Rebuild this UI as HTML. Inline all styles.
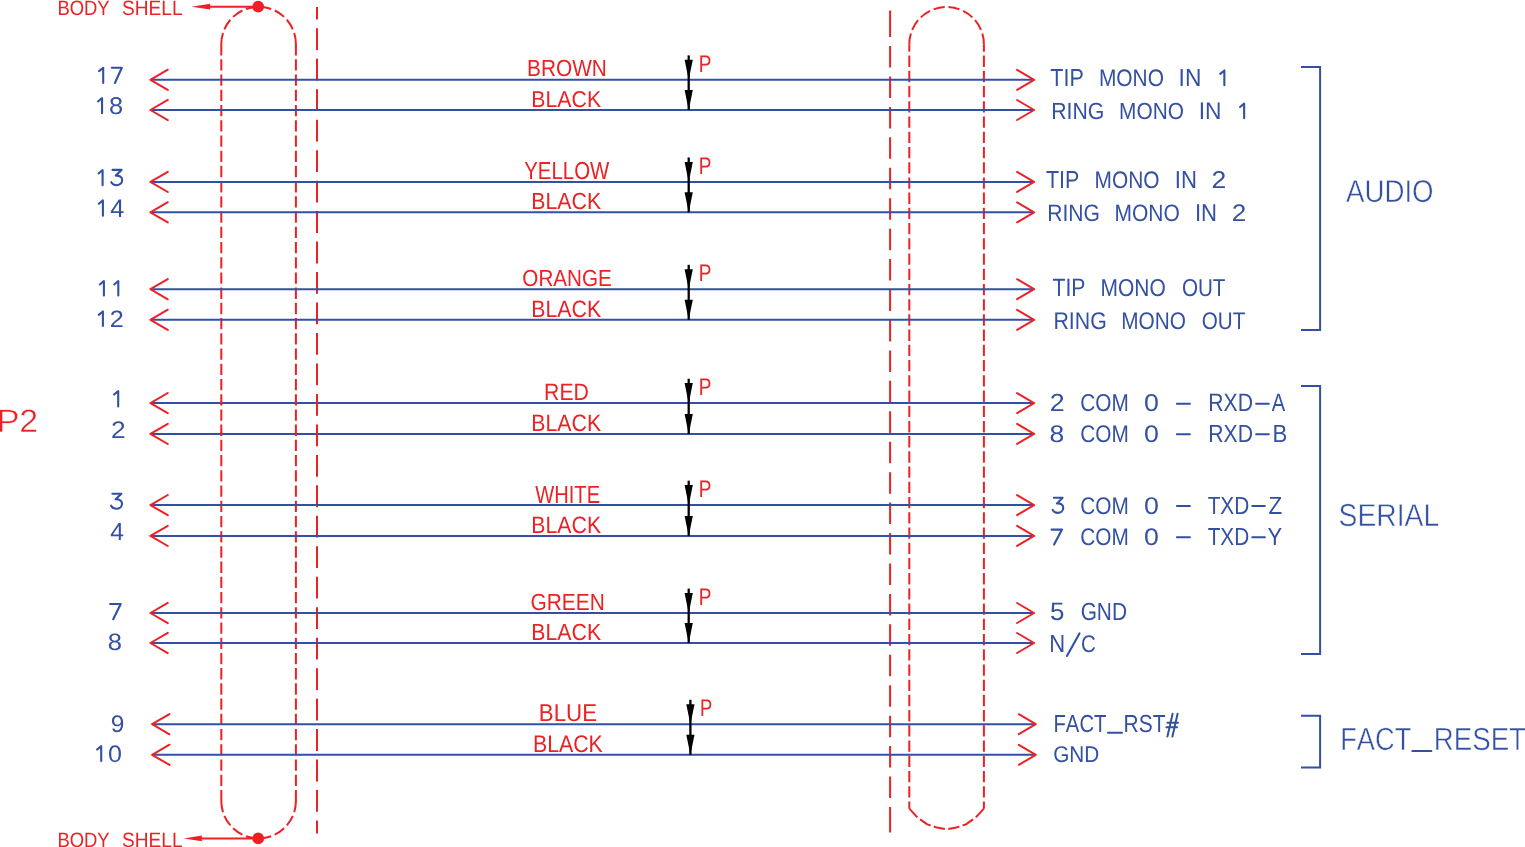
<!DOCTYPE html>
<html><head><meta charset="utf-8"><title>P2 cable wiring</title>
<style>
html,body{margin:0;padding:0;background:#fff;}
body{width:1525px;height:847px;overflow:hidden;}
svg{display:block;will-change:transform;}
text{font-family:"Liberation Sans",sans-serif;font-kerning:none;white-space:pre;}
</style></head>
<body>
<svg width="1525" height="847" viewBox="0 0 1525 847" text-rendering="geometricPrecision">
<rect width="1525" height="847" fill="#fff"/>
<g id="dash">
<path d="M317 7.10V19.40M317 28.30V50.10M317 58.77V80.57M317 89.24V111.04M317 119.71V141.51M317 150.18V171.98M317 180.65V202.45M317 211.12V232.92M317 241.59V263.39M317 272.06V293.86M317 302.53V324.33M317 333.00V354.80M317 363.47V385.27M317 393.94V415.74M317 424.41V446.21M317 454.88V476.68M317 485.35V507.15M317 515.82V537.62M317 546.29V568.09M317 576.76V598.56M317 607.23V629.03M317 637.70V659.50M317 668.17V689.97M317 698.64V720.44M317 729.11V750.91M317 759.58V781.38M317 790.05V811.85M317 820.60V833.50" fill="none" stroke="#ED2124" stroke-width="2" />
<path d="M890.1 10.60V37.00M890.1 46.00V67.50M890.1 76.44V97.94M890.1 106.88V128.38M890.1 137.32V158.82M890.1 167.76V189.26M890.1 198.20V219.70M890.1 228.64V250.14M890.1 259.08V280.58M890.1 289.52V311.02M890.1 319.96V341.46M890.1 350.40V371.90M890.1 380.84V402.34M890.1 411.28V432.78M890.1 441.72V463.22M890.1 472.16V493.66M890.1 502.60V524.10M890.1 533.04V554.54M890.1 563.48V584.98M890.1 593.92V615.42M890.1 624.36V645.86M890.1 654.80V676.30M890.1 685.24V706.74M890.1 715.68V737.18M890.1 746.12V767.62M890.1 776.56V798.06M890.1 807.10V832.40" fill="none" stroke="#ED2124" stroke-width="2" />
<path d="M221.3 44.1V801.1" fill="none" stroke="#ED2124" stroke-width="2" stroke-dasharray="11.3 3.92"/>
<path d="M295.9 44.1V801.1" fill="none" stroke="#ED2124" stroke-width="2" stroke-dasharray="11.3 3.92"/>
<path d="M221.3 44.1A37.3 37.3 0 0 1 258.60 6.80" fill="none" stroke="#ED2124" stroke-width="2" stroke-dasharray="11.3 3.92"/>
<path d="M295.9 44.1A37.3 37.3 0 0 0 258.60 6.80" fill="none" stroke="#ED2124" stroke-width="2" stroke-dasharray="11.3 3.92"/>
<path d="M221.3 801.1A37.3 37.3 0 0 0 258.60 838.40" fill="none" stroke="#ED2124" stroke-width="2" stroke-dasharray="11.3 3.92"/>
<path d="M295.9 801.1A37.3 37.3 0 0 1 258.60 838.40" fill="none" stroke="#ED2124" stroke-width="2" stroke-dasharray="11.3 3.92"/>
<path d="M909.3 44.3V808.4" fill="none" stroke="#ED2124" stroke-width="2" stroke-dasharray="11.3 3.92" stroke-dashoffset="3.9"/>
<path d="M983.9 44.3V808.4" fill="none" stroke="#ED2124" stroke-width="2" stroke-dasharray="11.3 3.92" stroke-dashoffset="3.9"/>
<path d="M946.60 7.00A37.3 37.3 0 0 0 909.3 44.3" fill="none" stroke="#ED2124" stroke-width="2" stroke-dasharray="11.3 3.92" stroke-dashoffset="13.3"/>
<path d="M946.60 7.00A37.3 37.3 0 0 1 983.9 44.3" fill="none" stroke="#ED2124" stroke-width="2" stroke-dasharray="11.3 3.92" stroke-dashoffset="13.3"/>
<path d="M909.10 808.40 L917.50 817.50 L927.30 824.40 L937.00 827.60 L944.90 829.00" fill="none" stroke="#ED2124" stroke-width="2" stroke-dasharray="12.2 3.4" stroke-linejoin="round"/>
<path d="M984.10 808.40 L975.70 817.50 L965.90 824.40 L956.20 827.60 L948.30 829.00" fill="none" stroke="#ED2124" stroke-width="2" stroke-dasharray="12.2 3.4" stroke-linejoin="round"/>
</g>
<line x1="209.10" y1="6.70" x2="258.20" y2="6.70" stroke="#ED2124" stroke-width="2" />
<path d="M191.5 6.7L210.1 3.80L210.1 9.60Z" fill="#ED2124"/>
<circle cx="258.2" cy="6.7" r="5.9" fill="#ED2124"/>
<line x1="200.80" y1="838.40" x2="258.20" y2="838.40" stroke="#ED2124" stroke-width="2" />
<path d="M183.8 838.4L201.8 835.50L201.8 841.30Z" fill="#ED2124"/>
<circle cx="258.2" cy="838.4" r="5.9" fill="#ED2124"/>
<text transform="translate(57.39 14.70) scale(0.8814 1)" font-size="20.90" fill="#ED2124">BODY</text>
<text transform="translate(122.03 14.70) scale(0.9150 1)" font-size="20.90" fill="#ED2124">SHELL</text>
<text transform="translate(57.39 846.50) scale(0.8814 1)" font-size="20.90" fill="#ED2124">BODY</text>
<text transform="translate(122.03 846.50) scale(0.9150 1)" font-size="20.90" fill="#ED2124">SHELL</text>
<line x1="150.40" y1="79.80" x2="1034.00" y2="79.80" stroke="#3350A2" stroke-width="2" />
<line x1="150.40" y1="110.00" x2="1034.00" y2="110.00" stroke="#3350A2" stroke-width="2" />
<line x1="150.40" y1="181.90" x2="1034.00" y2="181.90" stroke="#3350A2" stroke-width="2" />
<line x1="150.40" y1="212.30" x2="1034.00" y2="212.30" stroke="#3350A2" stroke-width="2" />
<line x1="150.40" y1="289.20" x2="1034.00" y2="289.20" stroke="#3350A2" stroke-width="2" />
<line x1="150.40" y1="319.80" x2="1034.00" y2="319.80" stroke="#3350A2" stroke-width="2" />
<line x1="150.40" y1="403.10" x2="1034.00" y2="403.10" stroke="#3350A2" stroke-width="2" />
<line x1="150.40" y1="433.90" x2="1034.00" y2="433.90" stroke="#3350A2" stroke-width="2" />
<line x1="150.40" y1="505.10" x2="1034.00" y2="505.10" stroke="#3350A2" stroke-width="2" />
<line x1="150.40" y1="535.90" x2="1034.00" y2="535.90" stroke="#3350A2" stroke-width="2" />
<line x1="150.40" y1="613.00" x2="1034.00" y2="613.00" stroke="#3350A2" stroke-width="2" />
<line x1="150.40" y1="643.00" x2="1034.00" y2="643.00" stroke="#3350A2" stroke-width="2" />
<line x1="152.10" y1="724.20" x2="1035.70" y2="724.20" stroke="#3350A2" stroke-width="2" />
<line x1="152.10" y1="754.80" x2="1035.70" y2="754.80" stroke="#3350A2" stroke-width="2" />
<clipPath id="c4"><rect x="0" y="401.4" width="1525" height="3.4"/><rect x="0" y="432.2" width="1525" height="3.4"/></clipPath>
<use href="#dash" clip-path="url(#c4)"/>
<path d="M167.80 69.70L150.40 79.80L167.80 89.90" fill="none" stroke="#ED2124" stroke-width="2" stroke-linecap="round" stroke-linejoin="round"/>
<path d="M1017.10 69.80L1034.10 79.80L1017.10 89.80" fill="none" stroke="#ED2124" stroke-width="2" stroke-linecap="round" stroke-linejoin="round"/>
<path d="M167.80 99.90L150.40 110.00L167.80 120.10" fill="none" stroke="#ED2124" stroke-width="2" stroke-linecap="round" stroke-linejoin="round"/>
<path d="M1017.10 100.00L1034.10 110.00L1017.10 120.00" fill="none" stroke="#ED2124" stroke-width="2" stroke-linecap="round" stroke-linejoin="round"/>
<line x1="688.70" y1="55.40" x2="688.70" y2="110.00" stroke="#000000" stroke-width="2.3" />
<path d="M684.60 59.80L692.80 59.80L688.70 80.10Z" fill="#000000"/>
<path d="M684.60 90.00L692.80 90.00L688.70 110.30Z" fill="#000000"/>
<text transform="translate(698.64 71.80) scale(0.7865 1)" font-size="24.13" fill="#ED2124">P</text>
<path d="M167.80 171.80L150.40 181.90L167.80 192.00" fill="none" stroke="#ED2124" stroke-width="2" stroke-linecap="round" stroke-linejoin="round"/>
<path d="M1017.10 171.90L1034.10 181.90L1017.10 191.90" fill="none" stroke="#ED2124" stroke-width="2" stroke-linecap="round" stroke-linejoin="round"/>
<path d="M167.80 202.20L150.40 212.30L167.80 222.40" fill="none" stroke="#ED2124" stroke-width="2" stroke-linecap="round" stroke-linejoin="round"/>
<path d="M1017.10 202.30L1034.10 212.30L1017.10 222.30" fill="none" stroke="#ED2124" stroke-width="2" stroke-linecap="round" stroke-linejoin="round"/>
<line x1="688.70" y1="157.50" x2="688.70" y2="212.30" stroke="#000000" stroke-width="2.3" />
<path d="M684.60 161.90L692.80 161.90L688.70 182.20Z" fill="#000000"/>
<path d="M684.60 192.30L692.80 192.30L688.70 212.60Z" fill="#000000"/>
<text transform="translate(698.64 173.90) scale(0.7865 1)" font-size="24.13" fill="#ED2124">P</text>
<path d="M167.80 279.10L150.40 289.20L167.80 299.30" fill="none" stroke="#ED2124" stroke-width="2" stroke-linecap="round" stroke-linejoin="round"/>
<path d="M1017.10 279.20L1034.10 289.20L1017.10 299.20" fill="none" stroke="#ED2124" stroke-width="2" stroke-linecap="round" stroke-linejoin="round"/>
<path d="M167.80 309.70L150.40 319.80L167.80 329.90" fill="none" stroke="#ED2124" stroke-width="2" stroke-linecap="round" stroke-linejoin="round"/>
<path d="M1017.10 309.80L1034.10 319.80L1017.10 329.80" fill="none" stroke="#ED2124" stroke-width="2" stroke-linecap="round" stroke-linejoin="round"/>
<line x1="688.70" y1="264.80" x2="688.70" y2="319.80" stroke="#000000" stroke-width="2.3" />
<path d="M684.60 269.20L692.80 269.20L688.70 289.50Z" fill="#000000"/>
<path d="M684.60 299.80L692.80 299.80L688.70 320.10Z" fill="#000000"/>
<text transform="translate(698.64 281.20) scale(0.7865 1)" font-size="24.13" fill="#ED2124">P</text>
<path d="M167.80 393.00L150.40 403.10L167.80 413.20" fill="none" stroke="#ED2124" stroke-width="2" stroke-linecap="round" stroke-linejoin="round"/>
<path d="M1017.10 393.10L1034.10 403.10L1017.10 413.10" fill="none" stroke="#ED2124" stroke-width="2" stroke-linecap="round" stroke-linejoin="round"/>
<path d="M167.80 423.80L150.40 433.90L167.80 444.00" fill="none" stroke="#ED2124" stroke-width="2" stroke-linecap="round" stroke-linejoin="round"/>
<path d="M1017.10 423.90L1034.10 433.90L1017.10 443.90" fill="none" stroke="#ED2124" stroke-width="2" stroke-linecap="round" stroke-linejoin="round"/>
<line x1="688.70" y1="378.70" x2="688.70" y2="433.90" stroke="#000000" stroke-width="2.3" />
<path d="M684.60 383.10L692.80 383.10L688.70 403.40Z" fill="#000000"/>
<path d="M684.60 413.90L692.80 413.90L688.70 434.20Z" fill="#000000"/>
<text transform="translate(698.64 395.10) scale(0.7865 1)" font-size="24.13" fill="#ED2124">P</text>
<path d="M167.80 495.00L150.40 505.10L167.80 515.20" fill="none" stroke="#ED2124" stroke-width="2" stroke-linecap="round" stroke-linejoin="round"/>
<path d="M1017.10 495.10L1034.10 505.10L1017.10 515.10" fill="none" stroke="#ED2124" stroke-width="2" stroke-linecap="round" stroke-linejoin="round"/>
<path d="M167.80 525.80L150.40 535.90L167.80 546.00" fill="none" stroke="#ED2124" stroke-width="2" stroke-linecap="round" stroke-linejoin="round"/>
<path d="M1017.10 525.90L1034.10 535.90L1017.10 545.90" fill="none" stroke="#ED2124" stroke-width="2" stroke-linecap="round" stroke-linejoin="round"/>
<line x1="688.70" y1="480.70" x2="688.70" y2="535.90" stroke="#000000" stroke-width="2.3" />
<path d="M684.60 485.10L692.80 485.10L688.70 505.40Z" fill="#000000"/>
<path d="M684.60 515.90L692.80 515.90L688.70 536.20Z" fill="#000000"/>
<text transform="translate(698.64 497.10) scale(0.7865 1)" font-size="24.13" fill="#ED2124">P</text>
<path d="M167.80 602.90L150.40 613.00L167.80 623.10" fill="none" stroke="#ED2124" stroke-width="2" stroke-linecap="round" stroke-linejoin="round"/>
<path d="M1017.10 603.00L1034.10 613.00L1017.10 623.00" fill="none" stroke="#ED2124" stroke-width="2" stroke-linecap="round" stroke-linejoin="round"/>
<path d="M167.80 632.90L150.40 643.00L167.80 653.10" fill="none" stroke="#ED2124" stroke-width="2" stroke-linecap="round" stroke-linejoin="round"/>
<path d="M1017.10 633.00L1034.10 643.00L1017.10 653.00" fill="none" stroke="#ED2124" stroke-width="2" stroke-linecap="round" stroke-linejoin="round"/>
<line x1="688.70" y1="588.60" x2="688.70" y2="643.00" stroke="#000000" stroke-width="2.3" />
<path d="M684.60 593.00L692.80 593.00L688.70 613.30Z" fill="#000000"/>
<path d="M684.60 623.00L692.80 623.00L688.70 643.30Z" fill="#000000"/>
<text transform="translate(698.64 605.00) scale(0.7865 1)" font-size="24.13" fill="#ED2124">P</text>
<path d="M169.50 714.10L152.10 724.20L169.50 734.30" fill="none" stroke="#ED2124" stroke-width="2" stroke-linecap="round" stroke-linejoin="round"/>
<path d="M1018.80 714.20L1035.80 724.20L1018.80 734.20" fill="none" stroke="#ED2124" stroke-width="2" stroke-linecap="round" stroke-linejoin="round"/>
<path d="M169.50 744.70L152.10 754.80L169.50 764.90" fill="none" stroke="#ED2124" stroke-width="2" stroke-linecap="round" stroke-linejoin="round"/>
<path d="M1018.80 744.80L1035.80 754.80L1018.80 764.80" fill="none" stroke="#ED2124" stroke-width="2" stroke-linecap="round" stroke-linejoin="round"/>
<line x1="690.40" y1="699.80" x2="690.40" y2="754.80" stroke="#000000" stroke-width="2.3" />
<path d="M686.30 704.20L694.50 704.20L690.40 724.50Z" fill="#000000"/>
<path d="M686.30 734.80L694.50 734.80L690.40 755.10Z" fill="#000000"/>
<text transform="translate(700.06 716.20) scale(0.7600 1)" font-size="24.13" fill="#ED2124">P</text>
<path d="M99.10 71.15L103.20 67.75V82.95" fill="none" stroke="#3350A2" stroke-width="2.1" stroke-linecap="round" stroke-linejoin="round"/>
<path d="M111.80 67.70H121.80L114.90 83.00" fill="none" stroke="#3350A2" stroke-width="2.1" stroke-linecap="round" stroke-linejoin="round"/>
<path d="M97.95 101.45L102.05 98.05V113.15" fill="none" stroke="#3350A2" stroke-width="2.1" stroke-linecap="round" stroke-linejoin="round"/>
<text transform="translate(108.90 113.96) scale(1.0439 1)" font-size="24.29" fill="#3350A2">8</text>
<path d="M98.50 173.45L102.60 170.05V185.15" fill="none" stroke="#3350A2" stroke-width="2.1" stroke-linecap="round" stroke-linejoin="round"/>
<path d="M112.52 169.92L121.59 169.92L115.74 175.62C119.67 175.41 122.19 177.24 122.19 180.09C122.19 183.25 119.67 185.18 116.45 185.18C113.93 185.18 112.11 183.96 111.21 182.13" fill="none" stroke="#3350A2" stroke-width="2.1" stroke-linecap="round" stroke-linejoin="round"/>
<path d="M98.80 203.75L102.90 200.35V215.65" fill="none" stroke="#3350A2" stroke-width="2.1" stroke-linecap="round" stroke-linejoin="round"/>
<text transform="translate(110.32 216.70) scale(0.9965 1)" font-size="25.29" fill="#3350A2">4</text>
<path d="M99.80 284.45L103.90 281.05V295.55" fill="none" stroke="#3350A2" stroke-width="2.1" stroke-linecap="round" stroke-linejoin="round"/>
<path d="M114.20 284.45L118.30 281.05V295.55" fill="none" stroke="#3350A2" stroke-width="2.1" stroke-linecap="round" stroke-linejoin="round"/>
<path d="M98.80 314.85L102.90 311.45V325.95" fill="none" stroke="#3350A2" stroke-width="2.1" stroke-linecap="round" stroke-linejoin="round"/>
<text transform="translate(109.83 327.00) scale(1.0618 1)" font-size="23.77" fill="#3350A2">2</text>
<path d="M114.10 394.55L118.20 391.15V406.45" fill="none" stroke="#3350A2" stroke-width="2.1" stroke-linecap="round" stroke-linejoin="round"/>
<text transform="translate(110.88 437.70) scale(1.1013 1)" font-size="23.92" fill="#3350A2">2</text>
<path d="M112.40 493.70L121.40 493.70L115.60 499.30C119.50 499.10 122.00 500.90 122.00 503.70C122.00 506.80 119.50 508.70 116.30 508.70C113.80 508.70 112.00 507.50 111.10 505.70" fill="none" stroke="#3350A2" stroke-width="2.1" stroke-linecap="round" stroke-linejoin="round"/>
<text transform="translate(110.14 539.90) scale(1.0018 1)" font-size="24.56" fill="#3350A2">4</text>
<path d="M110.10 604.00H120.70L113.20 619.20" fill="none" stroke="#3350A2" stroke-width="2.1" stroke-linecap="round" stroke-linejoin="round"/>
<text transform="translate(107.79 650.27) scale(1.0842 1)" font-size="23.59" fill="#3350A2">8</text>
<text transform="translate(110.65 731.67) scale(1.0188 1)" font-size="24.01" fill="#3350A2">9</text>
<path d="M97.10 749.55L101.20 746.15V760.95" fill="none" stroke="#3350A2" stroke-width="2.1" stroke-linecap="round" stroke-linejoin="round"/>
<text transform="translate(108.02 761.77) scale(1.0517 1)" font-size="23.87" fill="#3350A2">0</text>
<text transform="translate(527.09 76.47) scale(0.8880 1)" font-size="23.45" fill="#ED2124">BROWN</text>
<text transform="translate(531.35 106.78) scale(0.9243 1)" font-size="23.02" fill="#ED2124">BLACK</text>
<text transform="translate(524.25 178.66) scale(0.8310 1)" font-size="24.58" fill="#ED2124">YELLOW</text>
<text transform="translate(531.35 208.97) scale(0.9076 1)" font-size="23.45" fill="#ED2124">BLACK</text>
<text transform="translate(522.32 285.57) scale(0.8868 1)" font-size="23.30" fill="#ED2124">ORANGE</text>
<text transform="translate(531.35 316.67) scale(0.8968 1)" font-size="23.73" fill="#ED2124">BLACK</text>
<text transform="translate(544.06 399.80) scale(0.8968 1)" font-size="23.69" fill="#ED2124">RED</text>
<text transform="translate(531.35 430.67) scale(0.8968 1)" font-size="23.73" fill="#ED2124">BLACK</text>
<text transform="translate(535.21 502.60) scale(0.8099 1)" font-size="24.86" fill="#ED2124">WHITE</text>
<text transform="translate(531.35 532.67) scale(0.8968 1)" font-size="23.73" fill="#ED2124">BLACK</text>
<text transform="translate(530.55 609.67) scale(0.8906 1)" font-size="23.45" fill="#ED2124">GREEN</text>
<text transform="translate(531.35 640.17) scale(0.9076 1)" font-size="23.45" fill="#ED2124">BLACK</text>
<text transform="translate(538.87 721.26) scale(0.9088 1)" font-size="24.51" fill="#ED2124">BLUE</text>
<text transform="translate(533.05 751.77) scale(0.8863 1)" font-size="24.01" fill="#ED2124">BLACK</text>
<text transform="translate(1050.32 86.30) scale(0.8744 1)" font-size="24.56" fill="#3350A2">TIP</text>
<text transform="translate(1098.89 86.07) scale(0.8756 1)" font-size="23.87" fill="#3350A2">MONO</text>
<text transform="translate(1178.60 86.30) scale(0.9264 1)" font-size="24.56" fill="#3350A2">IN</text>
<path d="M1220.25 73.85L1224.35 70.45V85.25" fill="none" stroke="#3350A2" stroke-width="2.1" stroke-linecap="round" stroke-linejoin="round"/>
<text transform="translate(1051.26 118.97) scale(0.9064 1)" font-size="23.45" fill="#3350A2">RING</text>
<text transform="translate(1119.09 118.97) scale(0.8885 1)" font-size="23.45" fill="#3350A2">MONO</text>
<text transform="translate(1198.80 119.20) scale(0.9431 1)" font-size="24.13" fill="#3350A2">IN</text>
<path d="M1240.05 107.05L1244.15 103.65V118.15" fill="none" stroke="#3350A2" stroke-width="2.1" stroke-linecap="round" stroke-linejoin="round"/>
<text transform="translate(1046.02 188.40) scale(0.8717 1)" font-size="24.56" fill="#3350A2">TIP</text>
<text transform="translate(1094.59 188.17) scale(0.8756 1)" font-size="23.87" fill="#3350A2">MONO</text>
<text transform="translate(1174.76 188.40) scale(0.9017 1)" font-size="24.56" fill="#3350A2">IN</text>
<text transform="translate(1211.56 188.40) scale(1.0974 1)" font-size="24.20" fill="#3350A2">2</text>
<text transform="translate(1047.17 220.77) scale(0.8903 1)" font-size="23.73" fill="#3350A2">RING</text>
<text transform="translate(1114.48 220.77) scale(0.8850 1)" font-size="23.73" fill="#3350A2">MONO</text>
<text transform="translate(1194.96 221.00) scale(0.9071 1)" font-size="24.42" fill="#3350A2">IN</text>
<text transform="translate(1231.69 221.00) scale(1.0857 1)" font-size="24.06" fill="#3350A2">2</text>
<text transform="translate(1052.52 296.30) scale(0.8435 1)" font-size="25.15" fill="#3350A2">TIP</text>
<text transform="translate(1100.58 296.06) scale(0.8581 1)" font-size="24.43" fill="#3350A2">MONO</text>
<text transform="translate(1181.92 296.06) scale(0.8444 1)" font-size="24.43" fill="#3350A2">OUT</text>
<text transform="translate(1053.45 328.66) scale(0.8835 1)" font-size="24.15" fill="#3350A2">RING</text>
<text transform="translate(1121.29 328.66) scale(0.8611 1)" font-size="24.15" fill="#3350A2">MONO</text>
<text transform="translate(1201.82 328.66) scale(0.8542 1)" font-size="24.15" fill="#3350A2">OUT</text>
<text transform="translate(1049.85 411.10) scale(1.0809 1)" font-size="24.78" fill="#3350A2">2</text>
<text transform="translate(1080.24 410.86) scale(0.8519 1)" font-size="24.43" fill="#3350A2">COM</text>
<text transform="translate(1144.05 410.86) scale(1.0958 1)" font-size="24.43" fill="#3350A2">0</text>
<text transform="translate(1208.27 411.10) scale(0.8409 1)" font-size="25.15" fill="#3350A2">RXD</text>
<text transform="translate(1271.76 411.10) scale(0.7977 1)" font-size="25.15" fill="#3350A2">A</text>
<text transform="translate(1049.45 441.77) scale(1.1006 1)" font-size="24.01" fill="#3350A2">8</text>
<text transform="translate(1080.24 441.77) scale(0.8669 1)" font-size="24.01" fill="#3350A2">COM</text>
<text transform="translate(1144.05 441.77) scale(1.1152 1)" font-size="24.01" fill="#3350A2">0</text>
<text transform="translate(1208.27 442.00) scale(0.8558 1)" font-size="24.71" fill="#3350A2">RXD</text>
<text transform="translate(1272.48 442.00) scale(0.8973 1)" font-size="24.71" fill="#3350A2">B</text>
<path d="M1053.93 497.71L1062.64 497.71L1057.03 503.38C1060.80 503.17 1063.23 505.00 1063.23 507.83C1063.23 510.97 1060.80 512.89 1057.71 512.89C1055.29 512.89 1053.54 511.67 1052.67 509.85" fill="none" stroke="#3350A2" stroke-width="2.1" stroke-linecap="round" stroke-linejoin="round"/>
<text transform="translate(1080.24 513.66) scale(0.8619 1)" font-size="24.15" fill="#3350A2">COM</text>
<text transform="translate(1144.05 513.66) scale(1.1087 1)" font-size="24.15" fill="#3350A2">0</text>
<text transform="translate(1207.63 513.90) scale(0.8361 1)" font-size="24.86" fill="#3350A2">TXD</text>
<text transform="translate(1268.59 513.90) scale(0.9033 1)" font-size="24.86" fill="#3350A2">Z</text>
<path d="M1051.60 529.60H1062.00L1054.10 544.60" fill="none" stroke="#3350A2" stroke-width="2.1" stroke-linecap="round" stroke-linejoin="round"/>
<text transform="translate(1080.24 544.77) scale(0.8669 1)" font-size="24.01" fill="#3350A2">COM</text>
<text transform="translate(1144.05 544.77) scale(1.1152 1)" font-size="24.01" fill="#3350A2">0</text>
<text transform="translate(1207.63 545.00) scale(0.8410 1)" font-size="24.71" fill="#3350A2">TXD</text>
<text transform="translate(1267.42 545.00) scale(0.8899 1)" font-size="24.71" fill="#3350A2">Y</text>
<text transform="translate(1049.96 619.65) scale(1.0285 1)" font-size="25.22" fill="#3350A2">5</text>
<text transform="translate(1080.65 619.66) scale(0.8390 1)" font-size="24.86" fill="#3350A2">GND</text>
<text transform="translate(1049.29 652.20) scale(0.8859 1)" font-size="24.86" fill="#3350A2">N</text>
<text transform="translate(1081.06 651.96) scale(0.8499 1)" font-size="24.15" fill="#3350A2">C</text>
<text transform="translate(1053.43 732.36) scale(0.8265 1)" font-size="24.58" fill="#3350A2">FACT</text>
<text transform="translate(1123.58 732.36) scale(0.8524 1)" font-size="24.58" fill="#3350A2">RST</text>
<text transform="translate(1053.16 762.28) scale(0.9110 1)" font-size="22.74" fill="#3350A2">GND</text>
<line x1="1176.90" y1="403.70" x2="1189.90" y2="403.70" stroke="#3350A2" stroke-width="2" stroke-linecap="round"/>
<line x1="1256.10" y1="403.70" x2="1268.80" y2="403.70" stroke="#3350A2" stroke-width="2" stroke-linecap="round"/>
<line x1="1176.90" y1="434.20" x2="1189.90" y2="434.20" stroke="#3350A2" stroke-width="2" stroke-linecap="round"/>
<line x1="1256.10" y1="434.20" x2="1268.80" y2="434.20" stroke="#3350A2" stroke-width="2" stroke-linecap="round"/>
<line x1="1176.90" y1="506.00" x2="1189.90" y2="506.00" stroke="#3350A2" stroke-width="2" stroke-linecap="round"/>
<line x1="1252.30" y1="506.00" x2="1264.90" y2="506.00" stroke="#3350A2" stroke-width="2" stroke-linecap="round"/>
<line x1="1176.90" y1="537.20" x2="1189.90" y2="537.20" stroke="#3350A2" stroke-width="2" stroke-linecap="round"/>
<line x1="1252.30" y1="537.20" x2="1264.90" y2="537.20" stroke="#3350A2" stroke-width="2" stroke-linecap="round"/>
<line x1="1066.90" y1="656.00" x2="1079.50" y2="633.40" stroke="#3350A2" stroke-width="2.1" stroke-linecap="round"/>
<line x1="1107.90" y1="732.80" x2="1122.00" y2="732.80" stroke="#3350A2" stroke-width="2" stroke-linecap="round"/>
<g stroke="#3350A2" stroke-width="2" stroke-linecap="round"><line x1="1172.6" y1="713.8" x2="1167.4" y2="736.6"/><line x1="1177.6" y1="713.8" x2="1172.4" y2="736.6"/><line x1="1167.4" y1="722.7" x2="1178.0" y2="722.7"/><line x1="1166.4" y1="727.3" x2="1177.0" y2="727.3"/></g>
<path d="M1301 67.0H1320.1V330.1H1301" fill="none" stroke="#3350A2" stroke-width="2" stroke-linejoin="miter"/>
<path d="M1301 386.0H1320.1V654.0H1301" fill="none" stroke="#3350A2" stroke-width="2" stroke-linejoin="miter"/>
<path d="M1301 715.8H1320.1V767.5H1301" fill="none" stroke="#3350A2" stroke-width="2" stroke-linejoin="miter"/>
<text transform="translate(1346.00 202.04) scale(0.8780 1)" font-size="31.50" fill="#3350A2" stroke="#fff" stroke-width="0.50">AUDIO</text>
<text transform="translate(1338.57 525.74) scale(0.8901 1)" font-size="31.78" fill="#3350A2" stroke="#fff" stroke-width="0.50">SERIAL</text>
<text transform="translate(1340.22 749.84) scale(0.8489 1)" font-size="32.06" fill="#3350A2" stroke="#fff" stroke-width="0.50">FACT</text>
<line x1="1412.30" y1="750.90" x2="1431.40" y2="750.90" stroke="#3350A2" stroke-width="2" stroke-linecap="round"/>
<text transform="translate(1433.68 749.84) scale(0.8645 1)" font-size="32.06" fill="#3350A2" stroke="#fff" stroke-width="0.50">RESET</text>
<text transform="translate(-3.34 431.95) scale(1.0462 1)" font-size="32.51" fill="#ED2124" stroke="#fff" stroke-width="0.50">P2</text>
</svg>
</body></html>
